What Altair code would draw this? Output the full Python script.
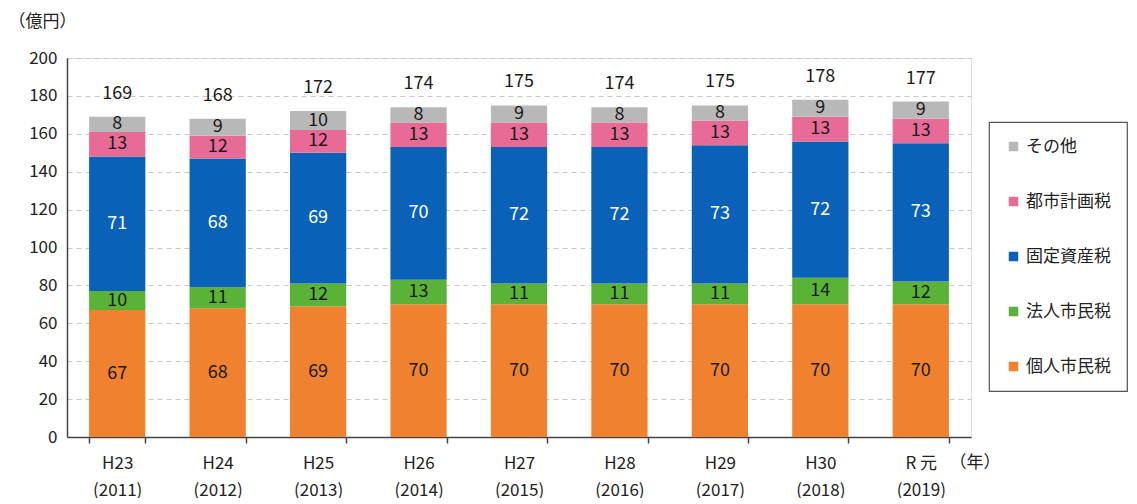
import altair as alt
import pandas as pd

categories = ["H23|(2011)", "H24|(2012)", "H25|(2013)", "H26|(2014)", "H27|(2015)",
              "H28|(2016)", "H29|(2017)", "H30|(2018)", "R 元|(2019)"]
series = ["個人市民税", "法人市民税", "固定資産税", "都市計画税", "その他"]
kojin = [67, 68, 69, 70, 70, 70, 70, 70, 70]
hojin = [10, 11, 12, 13, 11, 11, 11, 14, 12]
kotei = [71, 68, 69, 70, 72, 72, 73, 72, 73]
toshi = [13, 12, 12, 13, 13, 13, 13, 13, 13]
sonota = [8, 9, 10, 8, 9, 8, 8, 9, 9]
totals = [169, 168, 172, 174, 175, 174, 175, 178, 177]
y_ticks = [0, 20, 40, 60, 80, 100, 120, 140, 160, 180, 200]
colors = {"その他": "#B8B8B8", "都市計画税": "#E86B97", "固定資産税": "#0A62B8",
          "法人市民税": "#5AB336", "個人市民税": "#F0822F"}
text_colors = {"その他": "#1a1a1a", "都市計画税": "#1a1a1a", "固定資産税": "#ffffff",
               "法人市民税": "#1a1a1a", "個人市民税": "#1a1a1a"}

vals = [kojin, hojin, kotei, toshi, sonota]
rows = []
for si, s in enumerate(series):
    for ci, c in enumerate(categories):
        rows.append({"cat": c, "series": s, "value": vals[si][ci], "order": si,
                     "tc": text_colors[s]})
df = pd.DataFrame(rows)
tot = pd.DataFrame({"cat": categories, "total": totals})

FONT = "Noto Sans CJK JP"
legend_order = ["その他", "都市計画税", "固定資産税", "法人市民税", "個人市民税"]

x_axis = alt.Axis(title="（年）", titleAngle=0, titleX=882, titleY=25,
                  titleAlign="left", titleBaseline="middle",
                  titleFontSize=17, titleFontWeight="normal", titleFont=FONT,
                  titleColor="#222",
                  labelExpr="datum.value ? split(datum.value, '|') : ''",
                  labelAngle=0,
                  labelFontSize=17, labelFont=FONT, labelColor="#222",
                  labelLineHeight=27, labelPadding=12,
                  tickBand="extent", tickOffset=22, tickSize=6, tickColor="#444",
                  domainColor="#444", domainWidth=1.5, tickWidth=1.5,
                  grid=False)
y_axis = alt.Axis(title="（億円）", titleAngle=0, titleX=-59, titleY=-37,
                  titleAlign="left", titleBaseline="middle",
                  titleFontSize=17, titleFontWeight="normal", titleFont=FONT,
                  titleColor="#222",
                  values=y_ticks, labelFontSize=17,
                  labelOverlap=False,
                  labelFont=FONT, labelColor="#222", labelPadding=10,
                  ticks=False, domainColor="#444", domainWidth=1.5,
                  gridColor="#c8c8c8", gridDash=[5, 4], gridWidth=1)
x_scale = alt.Scale(paddingInner=0.44, paddingOuter=0.22)
y_scale = alt.Scale(domain=[0, 200])

bars = alt.Chart(df).mark_bar().encode(
    x=alt.X("cat:N", sort=categories, scale=x_scale, axis=x_axis),
    y=alt.Y("value:Q", stack="zero", scale=y_scale, axis=y_axis),
    color=alt.Color("series:N",
                    scale=alt.Scale(domain=legend_order,
                                    range=[colors[s] for s in legend_order]),
                    legend=alt.Legend(title=None, orient="none", legendX=922, legendY=64,
                                      symbolType="square", symbolSize=90,
                                      symbolStrokeWidth=0,
                                      labelFontSize=17, labelFont=FONT, labelColor="#222",
                                      labelOffset=4, rowPadding=37, padding=16,
                                      strokeColor="#555")),
    order=alt.Order("order:Q", sort="ascending"),
)

seg_text = alt.Chart(df).transform_stack(
    stack="value", groupby=["cat"], as_=["y0", "y1"],
    sort=[alt.SortField("order", order="ascending")]
).transform_calculate(mid="(datum.y0 + datum.y1) / 2").mark_text(
    fontSize=18, font=FONT, baseline="middle"
).encode(
    x=alt.X("cat:N", sort=categories, scale=x_scale, axis=x_axis),
    y=alt.Y("mid:Q", scale=y_scale, axis=y_axis),
    text=alt.Text("value:Q"),
    color=alt.Color("tc:N", scale=None),
)

tot_text = alt.Chart(tot).mark_text(
    fontSize=18, font=FONT, baseline="middle", dy=-23, color="#1a1a1a"
).encode(
    x=alt.X("cat:N", sort=categories, scale=x_scale, axis=x_axis),
    y=alt.Y("total:Q", scale=y_scale, axis=y_axis),
    text=alt.Text("total:Q"),
)

chart = alt.layer(bars, seg_text, tot_text).properties(
    width=904, height=379,
    padding={"left": 0, "top": 4, "right": 0, "bottom": 0},
).configure_view(stroke=None).configure(font=FONT).configure_legend(
    strokeWidth=1.2
).configure_axisY(labelOverlap=False)

chart.save("out.html", embed_options={"renderer": "svg", "actions": False})
